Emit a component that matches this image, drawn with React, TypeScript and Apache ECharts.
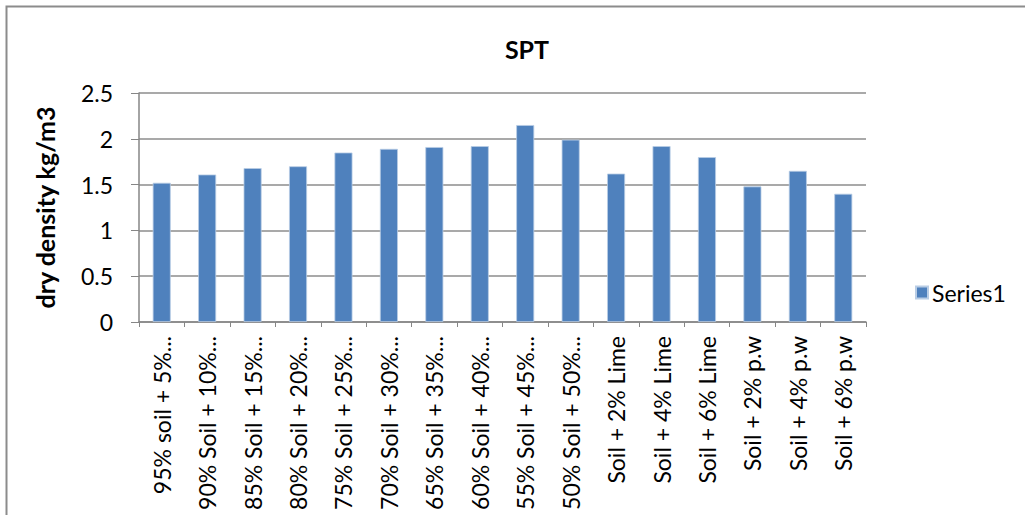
import React, { useEffect, useRef } from "react";
import * as echarts from "echarts";

const categories = [
  "95% soil + 5%...",
  "90% Soil + 10%...",
  "85% Soil + 15%...",
  "80% Soil + 20%...",
  "75% Soil + 25%...",
  "70% Soil + 30%...",
  "65% Soil + 35%...",
  "60% Soil + 40%...",
  "55% Soil + 45%...",
  "50% Soil + 50%...",
  "Soil + 2% Lime",
  "Soil + 4% Lime",
  "Soil + 6% Lime",
  "Soil + 2% p.w",
  "Soil + 4% p.w",
  "Soil + 6% p.w",
];
const series1 = [1.52, 1.61, 1.68, 1.7, 1.85, 1.89, 1.91, 1.92, 2.15, 1.99, 1.62, 1.92, 1.8, 1.48, 1.65, 1.4];
const yTicks = { min: 0, max: 2.5, interval: 0.5 };
const titleText = "SPT";
const yTitle = "dry density kg/m3";
const seriesName = "Series1";

const FONT = "Lato, 'Open Sans', sans-serif";

export default function App() {
  const ref = useRef<HTMLDivElement>(null);
  useEffect(() => {
    if (!ref.current) return;
    const chart = echarts.init(ref.current, undefined, { renderer: "svg" });
    chart.setOption({
      animation: false,
      backgroundColor: "#ffffff",
      textStyle: { fontFamily: FONT },
      title: {
        text: titleText,
        left: 522,
        top: 31,
        textAlign: "center",
        textStyle: { fontFamily: FONT, fontWeight: "bold", fontSize: 25, color: "#000" },
      },
      legend: {
        left: 910,
        top: 276,
        itemWidth: 12,
        itemHeight: 12,
        icon: "rect",
        itemGap: 4,
        textStyle: { fontFamily: FONT, fontSize: 23, color: "#000", padding: [0, 0, 0, -1] },
        data: [seriesName],
      },
      grid: { left: 139, right: 159, top: 93, bottom: 193 },
      xAxis: {
        type: "category",
        data: categories,
        axisLine: { lineStyle: { color: "#868686", width: 1.5 } },
        axisTick: { show: true, length: 5, lineStyle: { color: "#868686" } },
        axisLabel: {
          rotate: 90,
          interval: 0,
          fontFamily: FONT,
          fontSize: 23,
          color: "#000",
          margin: 14,
        },
      },
      yAxis: {
        type: "value",
        min: yTicks.min,
        max: yTicks.max,
        interval: yTicks.interval,
        name: yTitle,
        nameLocation: "middle",
        nameGap: 82,
        nameTextStyle: { fontFamily: FONT, fontWeight: "bold", fontSize: 25, color: "#000" },
        axisLine: { show: true, lineStyle: { color: "#868686", width: 1.5 } },
        axisTick: { show: true, inside: false, length: 8, lineStyle: { color: "#868686" } },
        axisLabel: { fontFamily: FONT, fontSize: 23, color: "#000", margin: 26 },
        splitLine: { show: true, lineStyle: { color: "#8c8c8c", width: 1.5 } },
      },
      series: [
        {
          name: seriesName,
          type: "bar",
          data: series1,
          barWidth: 18,
          itemStyle: { color: "#4f81bd", borderColor: "#b9cde5", borderWidth: 0.8 },
        },
      ],
      graphic: [
        {
          type: "rect",
          shape: { x: 6.5, y: 6.5, width: 1100, height: 600 },
          style: { fill: "none", stroke: "#8c8c8c", lineWidth: 2 },
          silent: true,
        },
      ],
    });
    return () => chart.dispose();
  }, []);
  return (
    <div
      ref={ref}
      style={{ position: "absolute", left: 0, top: 0, width: 1025, height: 515 }}
    />
  );
}
